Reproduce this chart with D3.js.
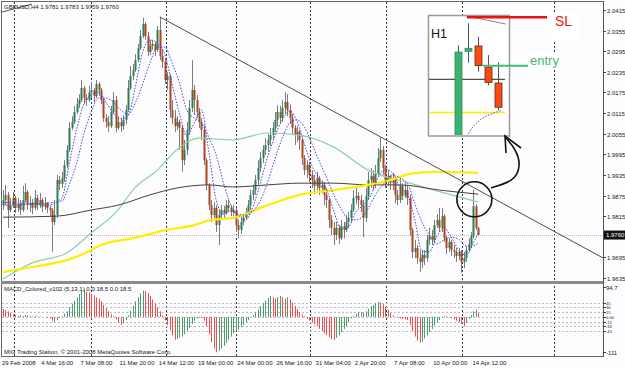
<!DOCTYPE html>
<html><head><meta charset="utf-8">
<script src="https://cdn.jsdelivr.net/npm/d3@7"></script>
<style>body{margin:0;background:#fff}svg{display:block}text{font-family:"Liberation Sans",Arial,sans-serif}</style>
</head><body><svg id="c" width="625" height="368"></svg>
<script>
// ---------------- DATA ----------------
const opens = [1.9847,1.9862,1.9877,1.9833,1.9847,1.9868,1.9839,1.9850,1.9833,1.9862,
1.9885,1.9847,1.9853,1.9839,1.9868,1.9847,1.9862,1.9842,1.9853,1.9839,
1.9833,1.9798,1.9818,1.9920,1.9909,1.9926,1.9964,2.0008,2.0072,2.0089,
2.0118,2.0141,2.0153,2.0188,2.0159,2.0153,2.0176,2.0182,2.0165,2.0200,
2.0182,2.0153,2.0101,2.0089,2.0077,2.0118,2.0153,2.0072,2.0089,2.0077,
2.0095,2.0124,2.0188,2.0223,2.0240,2.0269,2.0304,2.0339,2.0374,2.0339,
2.0293,2.0310,2.0316,2.0299,2.0357,2.0281,2.0264,2.0211,2.0223,2.0124,
2.0101,2.0077,2.0089,2.0072,1.9978,2.0008,2.0066,2.0130,2.0182,2.0153,
2.0118,2.0089,2.0066,1.9978,1.9906,1.9847,1.9818,1.9839,1.9789,1.9818,
1.9833,1.9824,1.9847,1.9839,1.9827,1.9833,1.9789,1.9775,1.9798,1.9810,
1.9827,1.9847,1.9877,1.9891,1.9920,1.9955,1.9984,2.0008,2.0022,2.0037,
2.0051,2.0072,2.0095,2.0118,2.0101,2.0130,2.0147,2.0124,2.0101,2.0072,
2.0051,2.0060,2.0037,1.9984,1.9949,1.9964,1.9935,1.9920,1.9903,1.9926,
1.9897,1.9906,1.9877,1.9862,1.9804,1.9781,1.9760,1.9781,1.9751,1.9786,
1.9775,1.9798,1.9810,1.9833,1.9868,1.9874,1.9862,1.9847,1.9810,1.9874,
1.9920,1.9932,1.9906,1.9938,1.9984,2.0008,1.9955,1.9920,1.9932,1.9911,
1.9920,1.9877,1.9862,1.9903,1.9874,1.9891,1.9868,1.9775,1.9711,1.9722,
1.9693,1.9682,1.9702,1.9693,1.9746,1.9757,1.9746,1.9789,1.9804,1.9781,
1.9815,1.9751,1.9722,1.9740,1.9716,1.9711,1.9699,1.9711,1.9682,1.9693,
1.9716,1.9734,1.9757,1.9844,1.9781];
const highs = [1.9891,1.9906,1.9885,1.9868,1.9885,1.9874,1.9868,1.9862,1.9903,1.9911,
1.9891,1.9874,1.9865,1.9891,1.9877,1.9882,1.9868,1.9871,1.9856,1.9847,
1.9839,1.9862,1.9935,1.9932,1.9944,1.9978,2.0022,2.0089,2.0106,2.0136,
2.0159,2.0170,2.0211,2.0194,2.0170,2.0194,2.0205,2.0188,2.0211,2.0205,
2.0188,2.0159,2.0112,2.0106,2.0136,2.0176,2.0165,2.0106,2.0101,2.0109,
2.0138,2.0211,2.0252,2.0258,2.0287,2.0316,2.0357,2.0392,2.0380,2.0351,
2.0328,2.0328,2.0322,2.0368,2.0395,2.0299,2.0275,2.0235,2.0229,2.0153,
2.0124,2.0106,2.0095,2.0080,2.0037,2.0089,2.0153,2.0269,2.0197,2.0168,
2.0130,2.0101,2.0080,1.9984,1.9911,1.9862,1.9856,1.9847,1.9833,1.9847,
1.9844,1.9862,1.9862,1.9847,1.9847,1.9839,1.9804,1.9818,1.9821,1.9839,
1.9862,1.9891,1.9906,1.9935,1.9978,2.0002,2.0022,2.0042,2.0054,2.0072,
2.0089,2.0118,2.0138,2.0136,2.0153,2.0176,2.0170,2.0141,2.0112,2.0080,
2.0077,2.0066,2.0042,1.9993,1.9978,1.9973,1.9949,1.9935,1.9944,1.9932,
1.9920,1.9914,1.9897,1.9868,1.9818,1.9798,1.9798,1.9789,1.9804,1.9798,
1.9818,1.9827,1.9850,1.9891,1.9897,1.9885,1.9877,1.9862,1.9897,1.9944,
1.9955,1.9949,1.9964,2.0013,2.0045,2.0019,1.9964,1.9949,1.9935,1.9941,
1.9926,1.9891,1.9926,1.9911,1.9914,1.9906,1.9877,1.9781,1.9746,1.9731,
1.9716,1.9716,1.9716,1.9760,1.9781,1.9775,1.9804,1.9821,1.9839,1.9839,
1.9821,1.9760,1.9751,1.9746,1.9731,1.9722,1.9722,1.9716,1.9711,1.9728,
1.9751,1.9769,1.9891,1.9850,1.9783];
const lows = [1.9833,1.9847,1.9781,1.9827,1.9839,1.9824,1.9827,1.9818,1.9827,1.9856,
1.9833,1.9827,1.9821,1.9833,1.9833,1.9839,1.9827,1.9833,1.9824,1.9815,
1.9711,1.9789,1.9810,1.9891,1.9897,1.9914,1.9955,2.0002,2.0066,2.0083,
2.0112,2.0130,2.0147,2.0141,2.0136,2.0147,2.0159,2.0147,2.0159,2.0165,
2.0141,2.0089,2.0072,2.0060,2.0072,2.0112,2.0060,2.0066,2.0060,2.0066,
2.0083,2.0118,2.0182,2.0211,2.0235,2.0264,2.0299,2.0333,2.0328,2.0281,
2.0284,2.0299,2.0281,2.0293,2.0269,2.0246,2.0200,2.0182,2.0101,2.0083,
2.0060,2.0066,2.0008,1.9944,1.9964,1.9993,2.0051,2.0118,2.0109,2.0101,
2.0072,2.0037,1.9964,1.9891,1.9833,1.9798,1.9810,1.9769,1.9731,1.9804,
1.9810,1.9818,1.9827,1.9815,1.9815,1.9769,1.9751,1.9763,1.9789,1.9804,
1.9821,1.9833,1.9862,1.9877,1.9906,1.9944,1.9970,1.9993,2.0002,2.0019,
2.0037,2.0060,2.0077,2.0083,2.0089,2.0112,2.0106,2.0083,2.0051,2.0022,
2.0031,2.0008,1.9964,1.9935,1.9926,1.9914,1.9897,1.9879,1.9891,1.9877,
1.9882,1.9847,1.9839,1.9781,1.9760,1.9731,1.9746,1.9734,1.9746,1.9751,
1.9769,1.9781,1.9798,1.9827,1.9850,1.9839,1.9827,1.9754,1.9798,1.9862,
1.9897,1.9891,1.9897,1.9932,1.9973,1.9935,1.9897,1.9903,1.9891,1.9891,
1.9853,1.9847,1.9853,1.9862,1.9868,1.9847,1.9757,1.9693,1.9693,1.9676,
1.9653,1.9664,1.9673,1.9682,1.9731,1.9731,1.9737,1.9781,1.9769,1.9769,
1.9740,1.9705,1.9711,1.9699,1.9693,1.9682,1.9687,1.9650,1.9664,1.9682,
1.9711,1.9722,1.9751,1.9775,1.9759];
const closes = [1.9862,1.9877,1.9833,1.9847,1.9868,1.9839,1.9850,1.9833,1.9862,1.9885,
1.9847,1.9853,1.9839,1.9868,1.9847,1.9862,1.9842,1.9853,1.9839,1.9833,
1.9798,1.9818,1.9920,1.9909,1.9926,1.9964,2.0008,2.0072,2.0089,2.0118,
2.0141,2.0153,2.0188,2.0159,2.0153,2.0176,2.0182,2.0165,2.0200,2.0182,
2.0153,2.0101,2.0089,2.0077,2.0118,2.0153,2.0072,2.0089,2.0077,2.0095,
2.0124,2.0188,2.0223,2.0240,2.0269,2.0304,2.0339,2.0374,2.0339,2.0293,
2.0310,2.0316,2.0299,2.0357,2.0281,2.0264,2.0211,2.0223,2.0124,2.0101,
2.0077,2.0089,2.0072,1.9978,2.0008,2.0066,2.0130,2.0182,2.0153,2.0118,
2.0089,2.0066,1.9978,1.9906,1.9847,1.9818,1.9839,1.9789,1.9818,1.9833,
1.9824,1.9847,1.9839,1.9827,1.9833,1.9789,1.9775,1.9798,1.9810,1.9827,
1.9847,1.9877,1.9891,1.9920,1.9955,1.9984,2.0008,2.0022,2.0037,2.0051,
2.0072,2.0095,2.0118,2.0101,2.0130,2.0147,2.0124,2.0101,2.0072,2.0051,
2.0060,2.0037,1.9984,1.9949,1.9964,1.9935,1.9920,1.9903,1.9926,1.9897,
1.9906,1.9877,1.9862,1.9804,1.9781,1.9760,1.9781,1.9751,1.9786,1.9775,
1.9798,1.9810,1.9833,1.9868,1.9874,1.9862,1.9847,1.9810,1.9874,1.9920,
1.9932,1.9906,1.9938,1.9984,2.0008,1.9955,1.9920,1.9932,1.9911,1.9920,
1.9877,1.9862,1.9903,1.9874,1.9891,1.9868,1.9775,1.9711,1.9722,1.9693,
1.9682,1.9702,1.9693,1.9746,1.9757,1.9746,1.9789,1.9804,1.9781,1.9815,
1.9751,1.9722,1.9740,1.9716,1.9711,1.9699,1.9711,1.9682,1.9693,1.9716,
1.9734,1.9757,1.9844,1.9781,1.9760];

const macdHist = [25,22,18,12,8,
6,4,5,3,6,5,3,2,4,2,1,0,-1,-3,-5,
-12,-16,
-10,-4,2,10,18,
30,42,52,62,72,82,
86,80,78,74,68,62,58,50,
38,28,18,8,2,-8,-18,-25,-20,-10,
5,20,35,50,62,74,83,
82,76,66,55,42,30,18,
5,-10,-25,-42,-58,-72,
-70,-65,-62,-55,-45,-35,-22,-12,
-5,-2,-4,-12,
-30,-55,-80,-100,-112,-108,-100,-92,-82,-72,-62,-52,
-45,-40,-33,-26,-18,-10,-2,
6,14,24,34,44,52,60,66,62,58,63,66,62,58,62,55,
45,35,25,15,8,2,
-6,-12,-18,-24,-30,-38,-45,-52,-58,-65,-70,-73,
-66,-58,-48,-38,-28,-16,-5,
4,10,14,16,14,18,26,34,38,44,48,
45,40,32,22,12,5,0,
-3,-5,-6,-8,-10,
-25,-45,-62,-75,-82,
-78,-68,-58,-48,-38,-28,-18,-10,-3,
3,2,-2,
-4,-8,-12,-16,-22,-30,
-18,-6,6,18,22,12];

const fastIdx = [0,6,12,18,24,27,30,33,36,39,42,45,48,51,54,57,60,63,66,69,72,75,78,81,84,87,90,93,96,99,102,105,108,111,114,117,120,123,126,129,132,135,138,141,144,147,150,153,156,159,162,165,168,171,174,177,180,183,186,189,192,194];
const fastMA = [1.9856,1.9853,1.9853,1.9847,1.9868,1.9967,2.0066,2.0141,2.0168,2.0176,2.0147,2.0115,2.0098,2.0106,2.0191,2.0293,2.0328,2.0319,2.0287,2.0200,2.0115,2.0048,2.0086,2.0124,2.0002,1.9862,1.9821,1.9830,1.9818,1.9804,1.9842,1.9911,1.9987,2.0048,2.0095,2.0121,2.0092,2.0025,1.9964,1.9923,1.9894,1.9830,1.9778,1.9783,1.9827,1.9847,1.9874,1.9926,1.9952,1.9941,1.9900,1.9879,1.9807,1.9714,1.9711,1.9754,1.9781,1.9754,1.9716,1.9702,1.9737,1.9766];
const slowIdx = [0,12,24,27,30,33,36,39,42,45,48,51,54,57,60,63,66,69,72,75,78,81,84,87,90,93,96,99,102,105,108,111,114,117,120,123,126,129,132,135,138,141,144,147,150,153,156,159,162,165,168,171,174,177,180,183,186,189,192,194];
const slowMA = [1.9847,1.9850,1.9859,1.9906,1.9967,2.0054,2.0118,2.0159,2.0159,2.0147,2.0124,2.0112,2.0144,2.0200,2.0261,2.0307,2.0307,2.0261,2.0203,2.0124,2.0101,2.0086,2.0045,1.9993,1.9911,1.9847,1.9821,1.9818,1.9830,1.9859,1.9914,1.9981,2.0042,2.0086,2.0095,2.0074,2.0028,1.9976,1.9929,1.9877,1.9836,1.9807,1.9804,1.9815,1.9850,1.9888,1.9914,1.9935,1.9926,1.9911,1.9853,1.9798,1.9760,1.9734,1.9746,1.9754,1.9748,1.9728,1.9728,1.9737];
const greenIdx = [0,12,26,36,47,53,63,71,80,94,108,121,135,149,166,194];
const greenMA = [1.9632,1.9679,1.9708,1.9766,1.9833,1.9891,1.9949,2.0008,2.0042,2.0037,2.0057,2.0051,2.0016,1.9949,1.9911,1.9856];
const darkIdx = [0,22,36,47,60,71,84,94,108,121,135,149,162,178,194];
const darkMA = [1.9812,1.9815,1.9833,1.9847,1.9877,1.9897,1.9906,1.9900,1.9906,1.9911,1.9911,1.9906,1.9906,1.9891,1.9879];
const yellowIdx = [0,12,26,36,40,53,67,78,85,94,108,121,135,149,158,166,176,194];
const yellowMA = [1.9652,1.9667,1.9687,1.9716,1.9731,1.9751,1.9775,1.9789,1.9804,1.9810,1.9847,1.9877,1.9891,1.9906,1.9920,1.9938,1.9944,1.9941];

const trendMain = [[64,2.0395],[245,1.9693]];
const trendOld = [[-0.4,2.0409],[11.8,2.0432]];
const bidPrice = 1.9760;

const priceTicks = [2.0415,2.0355,2.0295,2.0235,2.0175,2.0115,2.0055,1.9995,1.9935,1.9875,1.9815,1.9695,1.9635];
const macdTicks = [94.7,45,30,15,0,-15,-30,-45,-111];
const macdTickLabels = ["94.7","45","30","15","0.00","-15","-30","-45","-111"];
const macdLevels = [45,30,15,0,-15,-30,-45];
const xLabelBars = [0,16,32,48,64,80,96,112,128,144,160,176,192];
const xLabels = ["29 Feb 2008","4 Mar 16:00","7 Mar 08:00","11 Mar 20:00","14 Mar 12:00","19 Mar 00:00","24 Mar 00:00","26 Mar 16:00","31 Mar 04:00","2 Apr 20:00","7 Apr 08:00","10 Apr 00:00","14 Apr 12:00"];
const gridBars = [4.5,36,66.5,95,125.5,156.5,187.5,225];

const titleText = "GBPUSD,H4  1.9781 1.9783 1.9759 1.9760";
const macdTitle = "MACD_Colored_v102 (5,13,1) 0.0 18.5 0.0 18.5";
const footer = "MIG Trading Station, © 2001-2008 MetaQuotes Software Corp.";

// inset H1 chart
const insetO = [1.9690,1.9812,1.9819,1.9791,1.9770];
const insetH = [1.9820,1.9849,1.9831,1.9807,1.9797];
const insetL = [1.9680,1.9797,1.9785,1.9767,1.9734];
const insetC = [1.9811,1.9816,1.9793,1.9771,1.9738];
const insetTrend = [[0.65,1.9859],[4.75,1.9848]];
const insetLevel = 1.9775, insetYellow = 1.9731;
const insetMA = [[0.85,1.9700],[1.45,1.9712],[2.45,1.9724],[3.45,1.9730],[4.35,1.9734]];
const slPrice = 1.9857, entryPrice = 1.9793;

// ---------------- DRAW ----------------
const svg = d3.select('#c');
svg.append('rect').attr('width',625).attr('height',368).attr('fill','#fdfcfe');
const x = d3.scaleLinear().domain([0,245]).range([3,603.25]);
const y = d3.scaleLinear().domain([1.9635,2.0415]).range([278,10]);
const ym = d3.scaleLinear().domain([-111,94.7]).range([352,287]);
const px = v => Math.round(x(v)) + 0.5;

const defs = svg.append('defs');
defs.append('clipPath').attr('id','cm').append('rect').attr('x',2).attr('y',2).attr('width',601).attr('height',279);
defs.append('clipPath').attr('id','cd').append('rect').attr('x',2).attr('y',284).attr('width',601).attr('height',71);

// vertical grid
svg.append('g').selectAll('line').data(gridBars).join('line')
  .attr('x1',d=>px(d)).attr('x2',d=>px(d)).attr('y1',2).attr('y2',356)
  .attr('stroke','#3a3a3a').attr('stroke-dasharray','2,2').attr('stroke-width',1);

const main = svg.append('g').attr('clip-path','url(#cm)');
// bid line
main.append('line').attr('x1',2).attr('x2',603).attr('y1',Math.round(y(bidPrice))+0.5).attr('y2',Math.round(y(bidPrice))+0.5)
  .attr('stroke','#d6b6b6').attr('stroke-dasharray','1,1');

// candles
const idx = d3.range(closes.length);
main.append('g').selectAll('line').data(idx).join('line')
  .attr('x1',i=>px(i)).attr('x2',i=>px(i)).attr('y1',i=>y(highs[i])).attr('y2',i=>y(lows[i]))
  .attr('stroke','#7c7c7c').attr('stroke-width',1);
main.append('g').selectAll('rect').data(idx).join('rect')
  .attr('x',i=>px(i)-1).attr('width',2)
  .attr('y',i=>y(Math.max(opens[i],closes[i])))
  .attr('height',i=>Math.max(1,Math.abs(y(opens[i])-y(closes[i]))))
  .attr('fill',i=>closes[i]>=opens[i]?'#2e7d52':'#b0421c');

// moving averages
const mk = (ix,vals)=>ix.map((b,k)=>[b,vals[k]]);
const ln = d3.line().x(d=>x(d[0])).y(d=>y(d[1])).curve(d3.curveMonotoneX);
main.append('path').attr('d',ln(mk(greenIdx,greenMA))).attr('fill','none').attr('stroke','#8fd0a4').attr('stroke-width',1.2);
main.append('path').attr('d',ln(mk(darkIdx,darkMA))).attr('fill','none').attr('stroke','#4a403c').attr('stroke-width',1);
main.append('path').attr('d',ln(mk(yellowIdx,yellowMA))).attr('fill','none').attr('stroke','#ffee00').attr('stroke-width',2.2);
main.append('path').attr('d',ln(mk(slowIdx,slowMA))).attr('fill','none').attr('stroke','#4646e6').attr('stroke-width',1).attr('stroke-dasharray','1.5,1.5');
main.append('path').attr('d',ln(mk(fastIdx,fastMA))).attr('fill','none').attr('stroke','#4646e6').attr('stroke-width',1).attr('stroke-dasharray','1.5,1.5');

// trendlines
const lnS = d3.line().x(d=>x(d[0])).y(d=>y(d[1]));
main.append('path').attr('d',lnS(trendMain)).attr('stroke','#4d4d4d').attr('stroke-width',1).attr('fill','none');
main.append('path').attr('d',lnS(trendOld)).attr('stroke','#4d4d4d').attr('stroke-width',1).attr('fill','none');

// MACD
const mg = svg.append('g').attr('clip-path','url(#cd)');
mg.selectAll('line.lv').data(macdLevels).join('line').attr('class','lv')
  .attr('x1',2).attr('x2',603).attr('y1',d=>Math.round(ym(d))+0.5).attr('y2',d=>Math.round(ym(d))+0.5)
  .attr('stroke','#bdbdbd').attr('stroke-dasharray','2,2');
mg.selectAll('line.hb').data(idx).join('line').attr('class','hb')
  .attr('x1',i=>px(i)).attr('x2',i=>px(i)).attr('y1',ym(0)).attr('y2',i=>ym(macdHist[i]))
  .attr('stroke',i=>(i>0 && macdHist[i]>=macdHist[i-1])?'#4f9e6c':'#ee5050').attr('stroke-width',1);

// frame
svg.append('line').attr('x1',1.5).attr('x2',1.5).attr('y1',1).attr('y2',356.5).attr('stroke','#666');
svg.append('line').attr('x1',1).attr('x2',604).attr('y1',1.5).attr('y2',1.5).attr('stroke','#666');
svg.append('line').attr('x1',1).attr('x2',604).attr('y1',356.5).attr('y2',356.5).attr('stroke','#666');
svg.append('rect').attr('x',1).attr('y',281).attr('width',603).attr('height',3).attr('fill','#8a8a8a');
svg.append('line').attr('x1',603.5).attr('x2',603.5).attr('y1',1).attr('y2',357).attr('stroke','#555');

// right axis price
const ax = svg.append('g').style('font-size','6px').attr('fill','#222');
priceTicks.forEach(p=>{
  const yy = Math.round(y(p))+0.5;
  ax.append('line').attr('x1',603).attr('x2',606).attr('y1',yy).attr('y2',yy).attr('stroke','#444');
  ax.append('text').attr('x',607).attr('y',yy).attr('dy','0.35em').text(p.toFixed(4));
});
const by = y(bidPrice);
ax.append('rect').attr('x',604).attr('y',by-4.5).attr('width',21).attr('height',9).attr('fill','#111');
ax.append('text').attr('x',606).attr('y',by).attr('dy','0.35em').attr('fill','#fff').text(bidPrice.toFixed(4));
macdTicks.forEach((v,k)=>{
  const yy = Math.round(ym(v))+0.5;
  const crowded = Math.abs(v) < 50;
  ax.append('line').attr('x1',603).attr('x2',606).attr('y1',yy).attr('y2',yy).attr('stroke','#444');
  ax.append('text').attr('x',606).attr('y',yy).attr('dy','0.35em')
    .style('font-size', crowded ? '4.1px' : '6px').text(macdTickLabels[k]);
});

// x labels
const xl = svg.append('g').style('font-size','6px').attr('fill','#222');
xLabelBars.forEach((b,k)=>{
  xl.append('text').attr('x',x(b)-1).attr('y',365).text(xLabels[k]);
});

// texts
svg.append('text').attr('x',4).attr('y',8.5).style('font-size','6px').attr('fill','#222').text(titleText);
svg.append('text').attr('x',4).attr('y',291).style('font-size','6px').attr('fill','#222').text(macdTitle);
svg.append('text').attr('x',4).attr('y',353.5).style('font-size','6px').attr('fill','#222').text(footer);

// ---------------- INSET ----------------
const ix = d3.scaleLinear().domain([0,4]).range([458.5,498.5]);
const iy = d3.scaleLinear().domain([1.9700,1.9860]).range([136,15]);
defs.append('clipPath').attr('id','ci').append('rect').attr('x',429).attr('y',16).attr('width',80).attr('height',119);
svg.append('rect').attr('x',428.5).attr('y',15.5).attr('width',81).attr('height',120.5).attr('fill','#ffffff').attr('stroke','#9a9a9a').attr('stroke-width',1.5);
const ig = svg.append('g').attr('clip-path','url(#ci)');
const iln = d3.line().x(d=>ix(d[0])).y(d=>iy(d[1]));
ig.append('path').attr('d',iln(insetTrend)).attr('stroke','#888').attr('fill','none');
ig.append('line').attr('x1',429).attr('x2',ix(4.65)).attr('y1',iy(insetLevel)).attr('y2',iy(insetLevel)).attr('stroke','#222');
ig.append('line').attr('x1',429).attr('x2',ix(4.65)).attr('y1',iy(insetYellow)).attr('y2',iy(insetYellow)).attr('stroke','#ffee00').attr('stroke-width',1.5);
ig.append('path').attr('d',iln.curve(d3.curveMonotoneX)(insetMA)).attr('stroke','#4646e6').attr('fill','none').attr('stroke-dasharray','1.5,1.5');
const ii = d3.range(insetC.length);
ig.selectAll('line.w').data(ii).join('line').attr('class','w')
  .attr('x1',i=>ix(i)).attr('x2',i=>ix(i)).attr('y1',i=>iy(insetH[i])).attr('y2',i=>iy(insetL[i])).attr('stroke','#555');
ig.selectAll('rect.b').data(ii).join('rect').attr('class','b')
  .attr('x',i=>ix(i)-3.5).attr('width',7)
  .attr('y',i=>iy(Math.max(insetO[i],insetC[i])))
  .attr('height',i=>Math.max(2,Math.abs(iy(insetO[i])-iy(insetC[i]))))
  .attr('fill',i=>insetC[i]>=insetO[i]?'#3cb371':'#ff4a12')
  .attr('stroke',i=>insetC[i]>=insetO[i]?'#2e8b57':'#5a2a1a').attr('stroke-width',0.8);
svg.append('text').attr('x',431).attr('y',37.5).style('font-size','12.5px').attr('fill','#111').text('H1');

// SL & entry annotations
svg.append('rect').attr('x',552).attr('y',12).attr('width',28).attr('height',28).attr('fill','#ffffff');
svg.append('line').attr('x1',ix(0.85)).attr('x2',ix(8.85)).attr('y1',iy(slPrice)).attr('y2',iy(slPrice)).attr('stroke','#ee1111').attr('stroke-width',2.5);
svg.append('text').attr('x',555).attr('y',26).style('font-size','14px').attr('fill','#ee1111').text('SL');
svg.append('rect').attr('x',528).attr('y',53).attr('width',34).attr('height',17).attr('fill','#ffffff');
svg.append('line').attr('x1',ix(2.45)).attr('x2',ix(6.95)).attr('y1',iy(entryPrice)).attr('y2',iy(entryPrice)).attr('stroke','#45b878').attr('stroke-width',2);
svg.append('text').attr('x',530).attr('y',65).style('font-size','13px').attr('fill','#45b878').text('entry');

// circle + arrow
svg.append('circle').attr('cx',x(192.4)).attr('cy',y(1.9864)).attr('r',17.5).attr('fill','none').attr('stroke','#111').attr('stroke-width',1.6);
svg.append('path').attr('d','M491,188 C504,184 518,181 519,166 C520,155 513,146 506,138')
  .attr('fill','none').attr('stroke','#111').attr('stroke-width',1.6);
svg.append('path').attr('d','M506,153 L505,136 L521,148').attr('fill','none').attr('stroke','#111').attr('stroke-width',1.6);
</script></body></html>
